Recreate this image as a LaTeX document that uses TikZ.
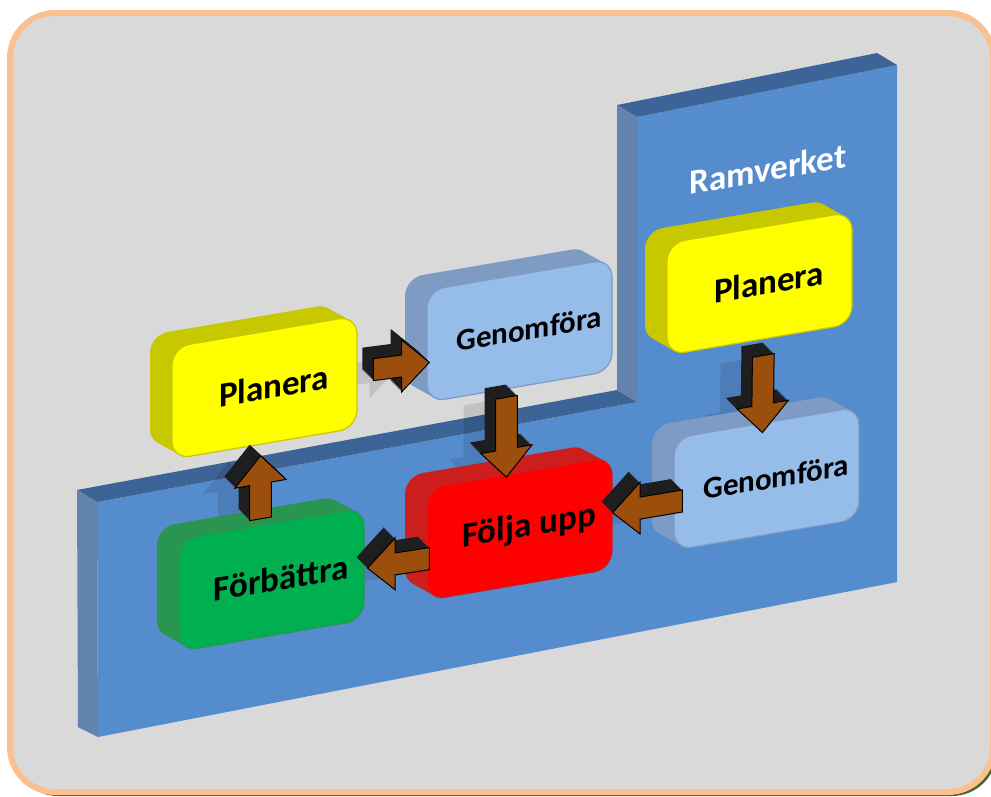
\documentclass[tikz,border=0pt]{standalone}
\usepackage{fontspec}
\setmainfont{Carlito}
\usetikzlibrary{calc}

\definecolor{pagefill}{HTML}{D9D9D9}
\definecolor{pageline}{HTML}{FAC090}
\definecolor{pageshadow}{HTML}{4F6228}
\definecolor{platefront}{HTML}{558CCD}
\definecolor{platetop}{HTML}{3C6496}
\definecolor{plateside}{HTML}{6283AB}
\definecolor{yellowface}{HTML}{FFFF00}
\definecolor{yellowside}{HTML}{C8C800}
\definecolor{blueface}{HTML}{96BCEA}
\definecolor{blueside}{HTML}{7D9BC3}
\definecolor{redface}{HTML}{FF0000}
\definecolor{redside}{HTML}{CD1E1E}
\definecolor{greenface}{HTML}{00B050}
\definecolor{greenside}{HTML}{289650}
\definecolor{arrowface}{HTML}{9C4F0C}
\definecolor{arrowside}{HTML}{1E1E1E}

\pgfdeclarelayer{backdrop}
\pgfdeclarelayer{shade}
\pgfsetlayers{backdrop,shade,main}

\tikzset{
  stepface/.style={rectangle, rounded corners=18pt, minimum width=185pt,
    minimum height=112pt, inner sep=0pt, transform shape, line width=1.2pt,
    font=\bfseries\fontsize{35}{40}\selectfont,
    execute at begin node=\hspace*{19pt}},
  smalltext/.style={font=\bfseries\fontsize{31}{36}\selectfont},
}

% side of a box: the face outline swept back by (22,16)
\newcommand\boxbevel[3]{%
  \foreach \k in {0,...,22}{%
    \fill[#3, rounded corners=18pt] ({#1-92.5-\k},{#2-56-\k*16/22})
      rectangle ({#1+92.5-\k},{#2+56-\k*16/22});
  }}

% outline of a block arrow from tail #1 to tip #2, moved by (#3,#4)
\newcommand\arrowoutline[4]{%
  ($(#1)+({#3-(\apx)*11},{#4-(\apy)*11})$) --
  ($(hb)+({#3-(\apx)*11},{#4-(\apy)*11})$) --
  ($(hb)+({#3-(\apx)*26},{#4-(\apy)*26})$) --
  ($(#2)+(#3,#4)$) --
  ($(hb)+({#3+(\apx)*26},{#4+(\apy)*26})$) --
  ($(hb)+({#3+(\apx)*11},{#4+(\apy)*11})$) --
  ($(#1)+({#3+(\apx)*11},{#4+(\apy)*11})$) -- cycle}

% extruded block arrow with a faint cast shadow; #3,#4 is the unit vector across the arrow
\newcommand\blockarrow[4]{%
  \def\apx{#3}\def\apy{#4}%
  \coordinate (hb) at ($(#2)!28pt!(#1)$);
  \begin{pgfonlayer}{shade}
    \fill[black, opacity=0.1] \arrowoutline{#1}{#2}{-32}{6};
  \end{pgfonlayer}
  \foreach \k in {11,10,...,1}{\fill[arrowside] \arrowoutline{#1}{#2}{-\k}{-\k};}
  \filldraw[fill=arrowface, draw=black, line width=1pt] \arrowoutline{#1}{#2}{0}{0};
}

\begin{document}
\begin{tikzpicture}[x=1pt, y=-1pt]
\useasboundingbox (0,0) rectangle (991,796);
\clip (0,0) rectangle (991,796);

\begin{pgfonlayer}{backdrop}
% page
\fill[pageshadow, rounded corners=45pt] (13,16) rectangle (997,796);
\filldraw[fill=pagefill, draw=pageline, line width=6pt, rounded corners=45pt]
  (10,13) rectangle (993,792);

% L-shaped plate
\fill[platefront] (97,502) -- (637,402) -- (637,117) -- (897,65) -- (897,582) -- (98,737) -- cycle;
\fill[platetop] (77,490) -- (617,390) -- (637,402) -- (97,502) -- cycle;
\fill[platetop] (617,105) -- (877,53) -- (897,65) -- (637,117) -- cycle;
\fill[plateside] (77,490) -- (97,502) -- (98,737) -- (78,727) -- cycle;
\fill[plateside] (617,105) -- (637,117) -- (637,402) -- (617,390) -- cycle;
\end{pgfonlayer}

% boxes and heading, on the slanted plane
\begin{scope}[cm={1,0.17,0,1,(0,0)}]
  \node[transform shape, text=white, font=\bfseries\fontsize{35}{40}\selectfont]
    (title) at (768,299.6) {Ramverket};

  \boxbevel{264.5}{432.5}{yellowside}
  \node[stepface, fill=yellowface, draw=yellowside] (plL) at (264.5,432.5) {Planera};

  \boxbevel{519.5}{418.85}{blueside}
  \node[stepface, smalltext, fill=blueface, draw=blueside] (genT) at (519.5,418.85) {Genomföra};

  \boxbevel{519.5}{616.85}{redside}
  \node[stepface, fill=redface, draw=redside] (folj) at (519.5,616.85) {Följa upp};

  \boxbevel{271.5}{625.69}{greenside}
  \node[stepface, fill=greenface, draw=greenside] (forb) at (271.5,625.69) {Förbättra};

  \boxbevel{759.5}{412.65}{yellowside}
  \node[stepface, fill=yellowface, draw=yellowside] (plR) at (759.5,412.65) {Planera};

  \boxbevel{766.5}{608.84}{blueside}
  \node[stepface, smalltext, fill=blueface, draw=blueside] (genR) at (766.5,608.84) {Genomföra};
\end{scope}

% connectors
\coordinate (a1s) at ($(plL.east)!16pt!(genT.190)$);
\coordinate (a1e) at ($(genT.190)!-3pt!(plL.east)$);
\blockarrow{a1s}{a1e}{0}{1}

\coordinate (a2s) at ($(genT.257)!8pt!(folj.103)$);
\coordinate (a2e) at ($(folj.103)!-3pt!(genT.257)$);
\blockarrow{a2s}{a2e}{0.986}{-0.168}

\coordinate (a3s) at ($(folj.189)!-3pt!(forb.357)$);
\coordinate (a3e) at ($(forb.357)!3pt!(folj.189)$);
\blockarrow{a3s}{a3e}{0}{1}

\coordinate (a4s) at ($(forb.101)!6pt!(plL.266)$);
\coordinate (a4e) at ($(plL.266)!11pt!(forb.101)$);
\blockarrow{a4s}{a4e}{0.986}{-0.168}

\coordinate (a5s) at ($(plR.274)!16pt!(genR.94)$);
\coordinate (a5e) at ($(genR.94)!-10pt!(plR.274)$);
\blockarrow{a5s}{a5e}{0.986}{-0.168}

\coordinate (a6s) at ($(genR.185)!-9pt!(folj.east)$);
\coordinate (a6e) at (folj.east);
\blockarrow{a6s}{a6e}{0}{1}
\end{tikzpicture}
\end{document}
